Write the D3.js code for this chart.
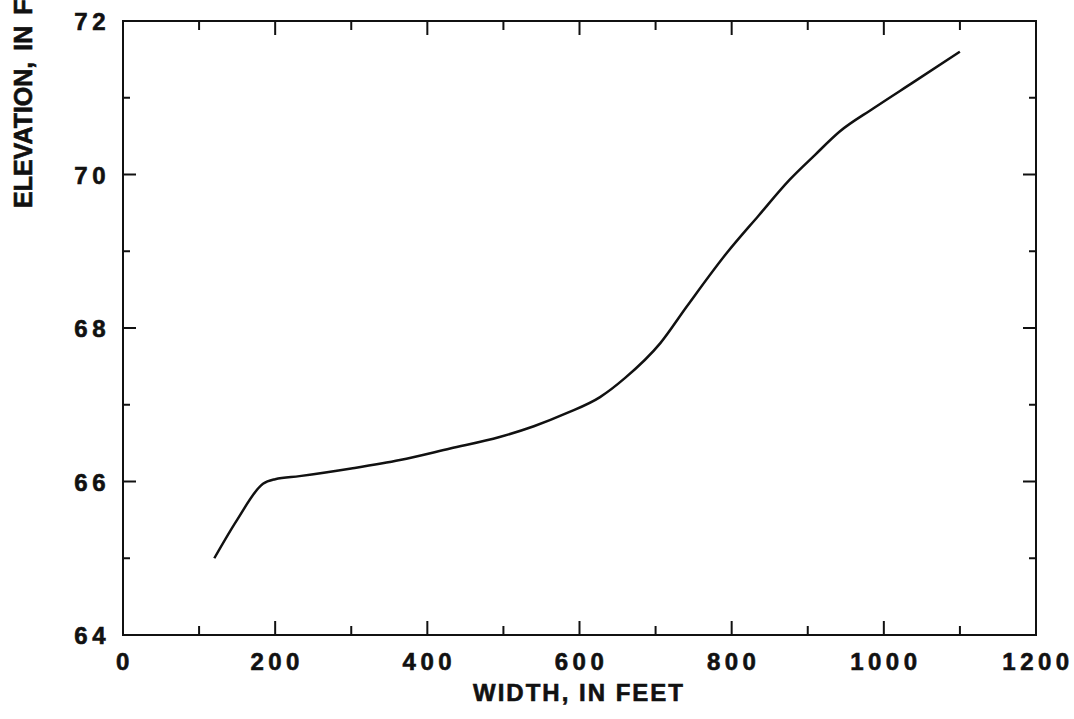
<!DOCTYPE html>
<html>
<head>
<meta charset="utf-8">
<script src="https://cdn.jsdelivr.net/npm/d3@7"></script>
<style>
  body { margin: 0; background: #fff; }
  svg { display: block; }
  text { font-family: "Liberation Sans", Arial, sans-serif; font-weight: bold; fill: #111; stroke: #111; stroke-width: 0.6px; }
</style>
</head>
<body>
<svg id="chart" width="1074" height="719"></svg>
<script>
// values
const widthFt = [120, 150, 184, 200, 232, 300, 364, 430, 495, 540, 583, 627, 660, 706, 741, 793, 835, 876, 910, 942, 986, 1040, 1100]
const elevation = [65.0, 65.5, 65.97, 66.03, 66.07, 66.17, 66.28, 66.43, 66.58, 66.72, 66.89, 67.1, 67.35, 67.8, 68.28, 68.97, 69.46, 69.93, 70.26, 70.56, 70.86, 71.21, 71.6]
const xTickLabels = [0, 200, 400, 600, 800, 1000, 1200]
const yTickLabels = [64, 66, 68, 70, 72]
const xMinor = d3.range(0, 1201, 100)
const yMinor = d3.range(64, 72.01, 1)

const plotLeft = 123, plotRight = 1036, plotTop = 21, plotBottom = 635

const svg = d3.select('#chart')
const x = d3.scaleLinear().domain([0, 1200]).range([plotLeft, plotRight])
const y = d3.scaleLinear().domain([64, 72]).range([plotBottom, plotTop])

const ink = '#111'

// frame
svg.append('rect')
    .attr('x', plotLeft).attr('y', plotTop)
    .attr('width', plotRight - plotLeft).attr('height', plotBottom - plotTop)
    .attr('fill', 'none').attr('stroke', ink).attr('stroke-width', 2)

const isMajorX = v => xTickLabels.includes(v)
const isMajorY = v => yTickLabels.includes(v)

// x ticks (bottom and top, inward)
const ticks = svg.append('g').attr('stroke', ink).attr('stroke-width', 2)
xMinor.forEach(v => {
    const len = isMajorX(v) ? 14 : 9
    ticks.append('line').attr('x1', x(v)).attr('x2', x(v)).attr('y1', plotBottom).attr('y2', plotBottom - len)
    ticks.append('line').attr('x1', x(v)).attr('x2', x(v)).attr('y1', plotTop).attr('y2', plotTop + len)
})
// y ticks (left and right, inward)
yMinor.forEach(v => {
    const len = isMajorY(v) ? 13 : 7
    ticks.append('line').attr('y1', y(v)).attr('y2', y(v)).attr('x1', plotLeft).attr('x2', plotLeft + len)
    ticks.append('line').attr('y1', y(v)).attr('y2', y(v)).attr('x1', plotRight).attr('x2', plotRight - len)
})

// tick labels
svg.append('g').selectAll('text')
    .data(xTickLabels)
    .enter()
    .append('text')
    .attr('x', d => x(d) + 2)
    .attr('y', 670)
    .attr('text-anchor', 'middle')
    .style('font-size', '24px')
    .style('letter-spacing', '4.5px')
    .text(d => d)

svg.append('g').selectAll('text')
    .data(yTickLabels)
    .enter()
    .append('text')
    .attr('x', 110)
    .attr('y', d => y(d) + 9)
    .attr('text-anchor', 'end')
    .style('font-size', '24px')
    .style('letter-spacing', '4.5px')
    .text(d => d)

// axis titles
svg.append('text')
    .attr('x', 579)
    .attr('y', 701)
    .attr('text-anchor', 'middle')
    .style('font-size', '24px')
    .style('letter-spacing', '2px')
    .text('WIDTH, IN FEET')

svg.append('text')
    .attr('transform', 'translate(32, 208) rotate(-90)')
    .attr('text-anchor', 'start')
    .style('font-size', '25px')
    .style('word-spacing', '4px')
    .text('ELEVATION, IN FEET')

// curve
const line = d3.line()
    .x(d => x(d[0]))
    .y(d => y(d[1]))
    .curve(d3.curveMonotoneX)

svg.append('path')
    .datum(d3.zip(widthFt, elevation))
    .attr('d', line)
    .attr('fill', 'none')
    .attr('stroke', ink)
    .attr('stroke-width', 2.5)
</script>
</body>
</html>
